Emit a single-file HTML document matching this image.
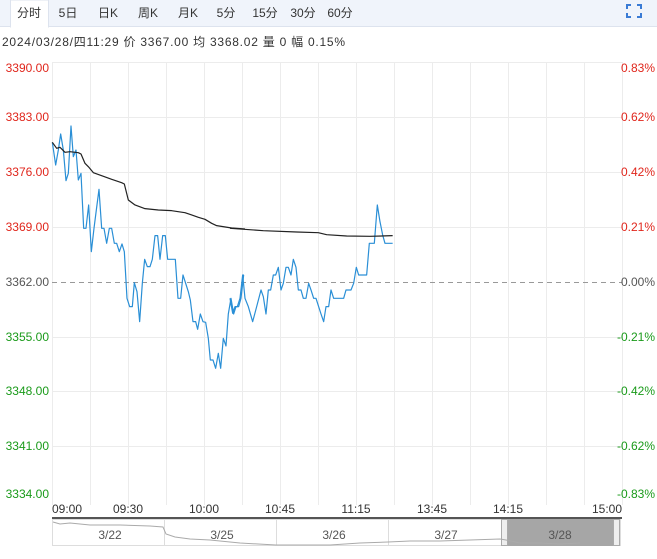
<!DOCTYPE html>
<html><head><meta charset="utf-8"><style>
body{margin:0;width:657px;height:554px;background:#fff;overflow:hidden;font-family:"Liberation Sans","Noto Sans CJK SC",sans-serif;}
svg text{font-family:"Liberation Sans","Noto Sans CJK SC",sans-serif;}
</style></head><body>
<svg width="657" height="554" xmlns="http://www.w3.org/2000/svg">
<rect x="0" y="0" width="657" height="26" fill="#f0f4fb"/>
<line x1="0" y1="26.5" x2="657" y2="26.5" stroke="#dde3ee"/>
<rect x="10.5" y="0" width="38" height="27" fill="#fff" stroke="#dde3ee"/>
<rect x="11" y="25" width="37" height="3" fill="#fff"/>
<g font-size="12" fill="#333" text-anchor="middle">
<text x="29" y="17">分时</text><text x="68" y="17">5日</text><text x="108" y="17">日K</text><text x="148" y="17">周K</text><text x="188" y="17">月K</text><text x="226" y="17">5分</text><text x="265" y="17">15分</text><text x="303" y="17">30分</text><text x="340" y="17">60分</text>
</g>
<path d="M627 9V5h4M637 5h4v4M641 13v4h-4M631 17h-4v-4" fill="none" stroke="#3a7bd5" stroke-width="2"/>
<text x="2" y="46" font-size="12" fill="#333" textLength="343" lengthAdjust="spacing">2024/03/28/四11:29 价 3367.00 均 3368.02 量 0 幅 0.15%</text>
<g stroke="#ececec" stroke-width="1">
<line x1="52" y1="62.5" x2="622" y2="62.5"/><line x1="52" y1="117.5" x2="622" y2="117.5"/><line x1="52" y1="172.5" x2="622" y2="172.5"/><line x1="52" y1="227.5" x2="622" y2="227.5"/><line x1="52" y1="337.5" x2="622" y2="337.5"/><line x1="52" y1="391.5" x2="622" y2="391.5"/><line x1="52" y1="446.5" x2="622" y2="446.5"/>
<line x1="90.5" y1="62" x2="90.5" y2="505"/><line x1="128.5" y1="62" x2="128.5" y2="505"/><line x1="166.5" y1="62" x2="166.5" y2="505"/><line x1="204.5" y1="62" x2="204.5" y2="505"/><line x1="242.5" y1="62" x2="242.5" y2="505"/><line x1="280.5" y1="62" x2="280.5" y2="505"/><line x1="318.5" y1="62" x2="318.5" y2="505"/><line x1="356.5" y1="62" x2="356.5" y2="505"/><line x1="394.5" y1="62" x2="394.5" y2="505"/><line x1="432.5" y1="62" x2="432.5" y2="505"/><line x1="470.5" y1="62" x2="470.5" y2="505"/><line x1="508.5" y1="62" x2="508.5" y2="505"/><line x1="546.5" y1="62" x2="546.5" y2="505"/><line x1="584.5" y1="62" x2="584.5" y2="505"/><line x1="622.5" y1="62" x2="622.5" y2="505"/><line x1="52.5" y1="62" x2="52.5" y2="505"/>
</g>
<line x1="52" y1="282.5" x2="622" y2="282.5" stroke="#999" stroke-dasharray="5,4"/>
<g font-size="12" text-anchor="end">
<text x="49" y="72" fill="#e0261c">3390.00</text><text x="49" y="121" fill="#e0261c">3383.00</text><text x="49" y="176" fill="#e0261c">3376.00</text><text x="49" y="231" fill="#e0261c">3369.00</text><text x="49" y="286" fill="#555">3362.00</text><text x="49" y="341" fill="#1a9a1a">3355.00</text><text x="49" y="395" fill="#1a9a1a">3348.00</text><text x="49" y="450" fill="#1a9a1a">3341.00</text><text x="49" y="498" fill="#1a9a1a">3334.00</text>
<text x="655" y="72" fill="#e0261c">0.83%</text><text x="655" y="121" fill="#e0261c">0.62%</text><text x="655" y="176" fill="#e0261c">0.42%</text><text x="655" y="231" fill="#e0261c">0.21%</text><text x="655" y="286" fill="#555">0.00%</text><text x="655" y="341" fill="#1a9a1a">-0.21%</text><text x="655" y="395" fill="#1a9a1a">-0.42%</text><text x="655" y="450" fill="#1a9a1a">-0.62%</text><text x="655" y="498" fill="#1a9a1a">-0.83%</text>
</g>
<g fill="none" stroke-linejoin="round">
<g transform="translate(45,110) scale(0.3333)">
<polyline vector-effect="non-scaling-stroke" stroke="#2a8fd6" stroke-width="1.2" points="22,97 32,165 40,120 47,72 55,120 63,212 70,190 78,48 85,140 93,120 100,210 108,190 116,355 123,355 131,285 139,425 147,355 154,300 162,238 170,355 177,355 185,400 193,355 200,355 208,400 215,400 223,425 231,402 238,425 246,565 254,590 262,590 268,518 276,545 284,635 292,520 299,448 307,470 315,470 322,448 330,377 338,377 345,448 353,377 361,377 368,448 376,448 384,448 391,448 399,565 407,565 414,495 422,520 430,545 436,570 444,635 452,635 458,658 466,612 474,635 482,637 490,685 496,750 504,750 512,775 520,730 527,775 535,685 543,708 550,612 558,565 566,612 573,590 581,590 588,565 596,495 597,495"/>
<polyline vector-effect="non-scaling-stroke" stroke="#222" stroke-width="1.2" points="22,97 35,115 45,112 60,127 75,125 100,128 108,132 120,160 130,170 145,188 170,197 200,208 230,218 238,222 250,270 270,285 300,296 340,300 380,302 420,308 440,315 460,322 480,328 500,340 515,347 560,354 600,357"/>
</g>
<g transform="translate(230,190) scale(0.3333)">
<polyline vector-effect="non-scaling-stroke" stroke="#2a8fd6" stroke-width="1.2" points="0,325 8,370 15,350 22,350 30,325 38,255 45,325 55,350 68,395 80,350 93,300 100,320 108,372 115,300 122,300 130,255 137,255 145,232 153,300 160,280 168,232 175,232 183,255 190,208 198,232 205,300 213,300 220,325 228,325 236,280 243,300 251,325 258,325 266,350 273,372 281,395 288,350 296,350 303,300 311,325 318,325 326,325 333,325 341,325 348,300 356,300 363,300 371,280 379,232 386,255 394,255 402,255 410,255 418,160 425,160 433,160 442,45 450,95 458,135 465,160 473,160 488,160"/>
<polyline vector-effect="non-scaling-stroke" stroke="#222" stroke-width="1.2" points="0,115 100,122 200,126 265,128 290,134 350,138 420,139 488,137"/>
</g>
</g>
<g font-size="12" fill="#333">
<text x="52" y="513">09:00</text>
<text x="128" y="513" text-anchor="middle">09:30</text><text x="204" y="513" text-anchor="middle">10:00</text><text x="280" y="513" text-anchor="middle">10:45</text><text x="356" y="513" text-anchor="middle">11:15</text><text x="432" y="513" text-anchor="middle">13:45</text><text x="508" y="513" text-anchor="middle">14:15</text><text x="622" y="513" text-anchor="end">15:00</text>
</g>
<rect x="52" y="517" width="570" height="2" fill="#555"/>
<rect x="52.5" y="519.5" width="568" height="26" fill="none" stroke="#ddd"/>
<rect x="506" y="519" width="108" height="27" fill="#a6a6a6"/>
<rect x="501.5" y="519.5" width="6" height="26" fill="#eee" stroke="#aaa"/>
<rect x="613.5" y="519.5" width="6" height="26" fill="#eee" stroke="#aaa"/>
<g stroke="#ddd"><line x1="164.5" y1="519" x2="164.5" y2="546"/><line x1="276.5" y1="519" x2="276.5" y2="546"/><line x1="388.5" y1="519" x2="388.5" y2="546"/></g>
<polyline fill="none" stroke="#aaa" points="53,522 60,524 70,523 90,525 120,525 150,526 163,527 166,534 175,537 190,539 210,540 240,543 276,545 300,545 330,545 360,543 388,542 410,541 440,541 470,540 500,539 506,540 520,543 540,543 560,544 580,543"/>
<g font-size="12" fill="#555" text-anchor="middle">
<text x="110" y="539">3/22</text><text x="222" y="539">3/25</text><text x="334" y="539">3/26</text><text x="446" y="539">3/27</text><text x="560" y="539">3/28</text>
</g>
</svg>
</body></html>
